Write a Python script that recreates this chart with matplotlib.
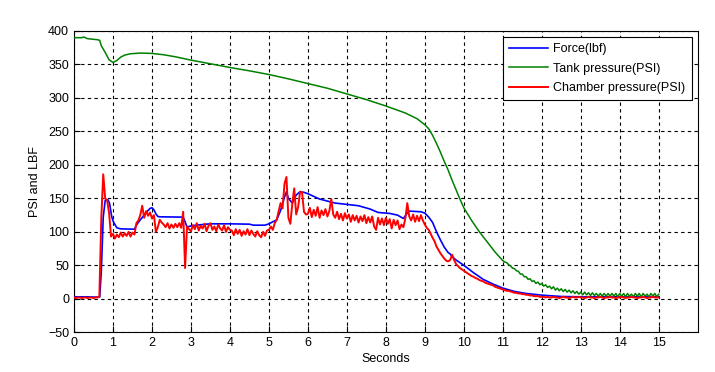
import numpy as np
import matplotlib
matplotlib.use("Agg")
import matplotlib.pyplot as plt

# ---------------- data ----------------
force_t = [0, 0.3, 0.6, 0.66, 0.70, 0.72, 0.75, 0.80, 0.87, 0.91, 0.97, 1.01, 1.1, 1.2,
           1.55, 1.6, 1.7, 1.8, 1.9, 1.95, 2.0, 2.05, 2.1, 2.15, 2.2, 2.8, 2.85, 2.9,
           3.0, 3.3, 3.5, 4.0, 4.5, 4.6, 4.9, 5.0, 5.1, 5.2, 5.3, 5.4, 5.45, 5.5, 5.6,
           5.7, 5.8, 5.9, 6.0, 6.3, 6.7, 7.0, 7.3, 7.6, 7.8, 8.1, 8.3, 8.45, 8.55, 8.6,
           8.9, 9.0, 9.1, 9.2, 9.3, 9.4, 9.5, 9.6, 9.65, 9.7, 9.8, 10.0, 10.25, 10.5,
           10.75, 11.0, 11.3, 11.6, 12.0, 12.5, 13.0, 14.0, 15.0]
force_lbf = [3, 3, 2.5, 3, 40, 73, 122, 147, 148, 143, 122, 115, 106, 104.5,
             104, 110, 118, 125, 132, 135, 136, 133, 127, 123, 122.5, 122, 115, 107,
             109, 111, 112, 112, 111.5, 110, 110, 112, 115, 118, 132, 152, 160, 150, 143,
             155, 160, 159, 157, 149, 143, 141, 139, 134, 129, 127.5, 125, 120, 128, 131,
             130, 128, 122, 114, 100, 88, 77, 69, 67, 63, 58, 50, 39, 29,
             22, 16, 11, 8, 5.5, 3.5, 3, 3, 3]

tank_t = [0, 0.2, 0.25, 0.35, 0.6, 0.66, 0.7, 0.8, 0.9, 1.0, 1.1, 1.2, 1.3, 1.45, 1.7,
          2.0, 2.3, 2.6, 3.0, 3.5, 4.0, 4.5, 5.0, 5.5, 6.0, 6.5, 7.0, 7.5, 8.0, 8.5,
          8.8, 9.0, 9.1, 9.2, 9.3, 9.4, 9.5, 9.6, 9.7, 9.8, 9.9, 10.0, 10.2, 10.4,
          10.6, 10.8, 11.0]
tank_psi = [390, 390, 391, 388.5, 387, 386, 378, 368, 357, 353, 356, 361, 364, 366, 367,
            366.5, 364.5, 361.5, 356.5, 351, 345.5, 340.5, 335, 328.5, 321.5, 314.5, 306,
            297.5, 288, 277.5, 269, 260, 254, 244, 232, 219, 205, 192, 177, 163, 149, 136,
            117, 100, 85, 70, 57]
# tank pressure 11.05 s .. 15.00 s, every 0.05 s (ripple visible in the tail)
tank_tail_psi = [55, 54, 51, 49, 46, 45, 42, 41, 37, 37,
                 33, 33, 29, 30, 26, 27, 23, 25, 21, 23,
                 19, 21, 17, 19, 15, 18, 13, 16, 12, 15,
                 11, 14, 10, 13, 9, 12, 8, 11, 7, 10,
                 6, 10, 6, 9, 5, 9, 5, 8, 4, 8,
                 4, 8, 4, 8, 4, 8, 4, 8, 3, 8,
                 4, 8, 3, 8, 4, 7, 3, 8, 4, 8,
                 3, 8, 4, 7, 3, 8, 4, 8, 3, 7]

# chamber pressure 0.00 s .. 15.00 s, every 0.05 s
chamber_psi = (
    [2, 1, 2, 2, 1, 2, 2, 1, 2, 2, 1, 2, 2] +
    [3, 120, 186, 150, 147, 128, 93] +
    [97, 90, 96, 92, 99, 93, 98, 94, 100, 93, 99, 96] +
    [113, 117, 125, 139, 121, 131, 124, 129, 120, 125, 100, 107, 118, 114,
     111, 107, 113, 105, 111, 106, 112, 107, 113, 106, 130, 46, 108, 104] +
    [101, 110, 104, 113, 102, 109, 105, 112, 101, 109, 113, 103, 108, 101,
     111, 105, 102, 110, 100, 107, 103] +
    [102, 95, 104, 97, 103, 94, 101, 96, 104, 95, 102, 97, 93, 101, 95, 92,
     100, 94, 102] +
    [103, 108, 103, 113, 118, 131, 143, 135, 172, 182, 121, 112, 142, 165,
     126, 137, 160, 159, 130, 126] +
    [127, 136, 122, 133, 124, 137, 121, 132, 125, 134, 123] +
    [131, 149, 126, 121, 130, 119, 127, 117, 128, 120,
     126, 115, 125, 117, 124, 114, 123, 116, 125, 113,
     122, 114, 123, 108, 103, 121, 111, 120, 110, 121,
     112, 119, 105, 118, 110, 117, 104, 111, 107, 120] +
    [143, 123, 117, 126, 115, 124, 116, 125, 117, 111] +
    [106, 103, 97, 91, 86, 78, 73, 68, 64, 60, 57, 56, 58, 66, 58, 52, 49,
     46, 44, 42] +
    [40, 38, 36, 34, 33, 31, 30, 28, 27, 26, 24, 23, 22, 21, 20, 18, 17, 16,
     15, 14] +
    [13, 12, 12, 11, 10, 9, 9, 8, 8, 7, 7, 6, 6, 5, 5, 4, 4, 4, 3, 3] +
    [3, 2, 3, 2, 2, 3, 2, 2, 1, 2, 3, 2, 2, 1, 2, 3, 2, 2, 3, 2,
     2, 1, 2, 3, 2, 2, 1, 2, 2, 3, 2, 1, 2, 2, 3, 2, 2, 1, 2, 2,
     3, 2, 1, 2, 2, 3, 2, 2, 1, 2, 2, 3, 2, 1, 2, 2, 3, 2, 2, 2]
)

series_labels = ["Force(lbf)", "Tank pressure(PSI)", "Chamber pressure(PSI)"]
x_ticks = list(range(0, 16))
y_ticks = list(range(-50, 401, 50))

# ---------------- plot ----------------
plt.rcParams['font.family'] = ['Liberation Sans', 'DejaVu Sans']
plt.rcParams['font.size'] = 9

fig = plt.figure(figsize=(7.15, 3.72), dpi=100, facecolor='white')
ax = fig.add_axes([0.1035, 0.1067, 0.8723, 0.81])

chamber_t = np.linspace(0, 15, len(chamber_psi))
tail_t = np.linspace(11.05, 15.0, len(tank_tail_psi))
tank_all_t = np.concatenate([tank_t, tail_t])
tank_all = np.concatenate([tank_psi, tank_tail_psi])

ax.plot(force_t, force_lbf, color=(0, 0, 1), lw=1.2, label=series_labels[0], zorder=3)
ax.plot(tank_all_t, tank_all, color=(0, 0.5, 0), lw=1.1, label=series_labels[1], zorder=3)
ax.plot(chamber_t, chamber_psi, color=(1, 0, 0), lw=1.4, label=series_labels[2], zorder=4)

ax.set_xlim(0, 16)
ax.set_ylim(-50, 400)
ax.set_xticks(x_ticks)
ax.set_yticks(y_ticks)
ax.grid(True, color='black', linestyle=(0, (3, 3)), linewidth=0.8)
ax.set_axisbelow(True)
ax.tick_params(direction='in', length=4, width=0.8, colors='black', labelsize=9)
for s in ax.spines.values():
    s.set_linewidth(0.8)
    s.set_color('black')

ax.set_xlabel("Seconds", fontsize=9, labelpad=3)
ax.set_ylabel("PSI and LBF", fontsize=9, labelpad=5)

leg = ax.legend(loc='upper right', fontsize=9, handlelength=3.1, borderaxespad=0.48,
                fancybox=False, framealpha=1, edgecolor='black', labelspacing=0.6,
                borderpad=0.5, handletextpad=0.45)
leg.get_frame().set_linewidth(0.8)

fig.savefig("out.png", dpi=100, facecolor='white')
